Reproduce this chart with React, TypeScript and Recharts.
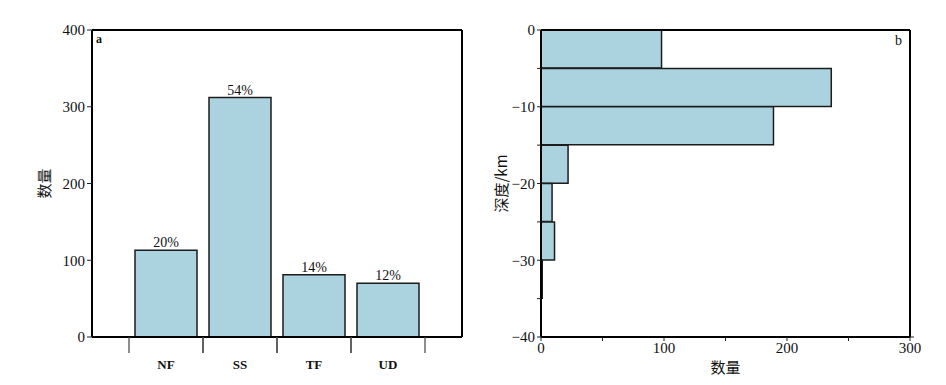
import { Bar, BarChart, LabelList, XAxis, YAxis } from "recharts";

// panel a: focal mechanism types
const faultTypes = ["NF", "SS", "TF", "UD"];
const faultCounts = [113, 312, 81, 70];
const faultShares = ["20%", "54%", "14%", "12%"];
const countTicksA = [0, 100, 200, 300, 400];

// panel b: depth histogram, 5 km bins (bin centres, km)
const depthMids = [-2.5, -7.5, -12.5, -17.5, -22.5, -27.5, -32.5, -37.5];
const depthCounts = [98, 236, 189, 22, 9, 11, 1, 0];
const depthTicks = [0, -5, -10, -15, -20, -25, -30, -35, -40];
const countTicksB = [0, 50, 100, 150, 200, 250, 300];

const SERIF = '"Liberation Serif", "Times New Roman", serif';
const CJK = '"Noto Sans CJK SC", sans-serif';
const FILL = "#abd3df";
const EDGE = "#1c1c1c";

const faultData = faultTypes.map((t, i) => ({
  type: t,
  count: faultCounts[i],
  share: faultShares[i],
}));
const depthData = depthMids.map((m, i) => ({ mid: m, count: depthCounts[i] }));

type TickProps = {
  x?: number;
  y?: number;
  payload?: { value: string; coordinate: number; offset?: number };
};

// category label plus separators at the band edges, hanging below the axis
function TypeTick({ x = 0, y = 0, payload }: TickProps) {
  const half = payload?.offset ?? 37;
  return (
    <g>
      <line x1={x - half} x2={x - half} y1={y} y2={y + 16} stroke="#444" strokeWidth={1.2} />
      <line x1={x + half} x2={x + half} y1={y} y2={y + 16} stroke="#444" strokeWidth={1.2} />
      <text
        x={x}
        y={y + 27}
        textAnchor="middle"
        dominantBaseline="central"
        fontFamily={SERIF}
        fontWeight="bold"
        fontSize={13}
        fill="#111"
      >
        {payload?.value}
      </text>
    </g>
  );
}

const tickStyle = { fill: "#111", fontSize: 15, fontFamily: SERIF };
const axisStyle = { stroke: "#000", strokeWidth: 2 };
const minus = (v: number) => (v < 0 ? `\u2212${-v}` : String(v));

export default function App() {
  return (
    <div
      style={{
        position: "absolute",
        left: 0,
        top: 0,
        width: 946,
        height: 385,
        background: "#fff",
        fontFamily: SERIF,
      }}
    >
      <div style={{ position: "absolute", left: 0, top: 0 }}>
        <BarChart
          width={480}
          height={385}
          data={faultData}
          margin={{ top: 29, right: 17, bottom: 18, left: 32 }}
          barCategoryGap={6}
          style={{ fontFamily: SERIF }}
        >
          <XAxis
            dataKey="type"
            type="category"
            padding={{ left: 37, right: 37 }}
            height={30}
            tickLine={false}
            tickSize={0}
            tickMargin={0}
            axisLine={axisStyle}
            tick={<TypeTick />}
            interval={0}
          />
          <XAxis
            xAxisId="top"
            orientation="top"
            dataKey="type"
            padding={{ left: 37, right: 37 }}
            height={1}
            tick={false}
            tickLine={false}
            axisLine={axisStyle}
          />
          <YAxis
            domain={[0, 400]}
            ticks={countTicksA}
            width={60}
            tickSize={5}
            tickLine={{ stroke: "#222" }}
            axisLine={axisStyle}
            tick={tickStyle}
            label={{
              value: "数量",
              angle: -90,
              position: "insideLeft",
              offset: 13,
              style: { textAnchor: "middle", fontFamily: CJK, fontSize: 15, fill: "#111" },
            }}
          />
          <YAxis
            yAxisId="right"
            orientation="right"
            domain={[0, 400]}
            width={1}
            tick={false}
            tickLine={false}
            axisLine={axisStyle}
          />
          <Bar
            dataKey="count"
            fill={FILL}
            stroke={EDGE}
            strokeWidth={1.5}
            isAnimationActive={false}
          >
            <LabelList
              dataKey="share"
              position="top"
              offset={3}
              style={{ fill: "#111", fontSize: 14, fontFamily: SERIF }}
            />
          </Bar>
        </BarChart>
        <div
          style={{
            position: "absolute",
            left: 96,
            top: 32,
            fontSize: 12,
            fontWeight: "bold",
            color: "#111",
          }}
        >
          a
        </div>
      </div>

      <div style={{ position: "absolute", left: 480, top: 0 }}>
        <BarChart
          width={466}
          height={385}
          data={depthData}
          layout="vertical"
          margin={{ top: 29, right: 35, bottom: 8, left: 16 }}
          barCategoryGap={0}
          style={{ fontFamily: SERIF }}
        >
          <XAxis
            xAxisId="cnt"
            type="number"
            domain={[0, 300]}
            ticks={countTicksB}
            tickFormatter={(v: number) => (v % 100 === 0 ? String(v) : "")}
            height={40}
            tickSize={4}
            tickMargin={1}
            tickLine={{ stroke: "#222" }}
            axisLine={axisStyle}
            tick={tickStyle}
            label={{
              value: "数量",
              position: "insideBottom",
              offset: 4,
              style: { fontFamily: CJK, fontSize: 15, fill: "#111" },
            }}
          />
          <XAxis
            xAxisId="top"
            orientation="top"
            type="number"
            domain={[0, 300]}
            ticks={countTicksB}
            tickFormatter={() => ""}
            height={1}
            tickSize={4}
            tickLine={{ stroke: "#222" }}
            axisLine={axisStyle}
          />
          <YAxis
            yAxisId="depth"
            dataKey="mid"
            type="number"
            domain={[-40, 0]}
            reversed
            allowDataOverflow
            ticks={depthTicks}
            tickFormatter={(v: number) => (v % 10 === 0 ? minus(v) : "")}
            width={45}
            tickSize={4}
            tickLine={{ stroke: "#222" }}
            axisLine={axisStyle}
            tick={tickStyle}
            label={{
              value: "深度/km",
              angle: -90,
              position: "insideLeft",
              offset: 6,
              style: { textAnchor: "middle", fontFamily: CJK, fontSize: 15, fill: "#111" },
            }}
          />
          <YAxis
            yAxisId="depthR"
            orientation="right"
            type="number"
            domain={[-40, 0]}
            reversed
            allowDataOverflow
            ticks={depthTicks}
            tickFormatter={() => ""}
            width={1}
            tickSize={4}
            tickLine={{ stroke: "#222" }}
            axisLine={axisStyle}
          />
          <Bar
            dataKey="count"
            xAxisId="cnt"
            yAxisId="depth"
            fill={FILL}
            stroke={EDGE}
            strokeWidth={1.5}
            isAnimationActive={false}
          />
        </BarChart>
        <div
          style={{
            position: "absolute",
            left: 415,
            top: 33,
            fontSize: 14,
            color: "#111",
          }}
        >
          b
        </div>
      </div>
    </div>
  );
}
